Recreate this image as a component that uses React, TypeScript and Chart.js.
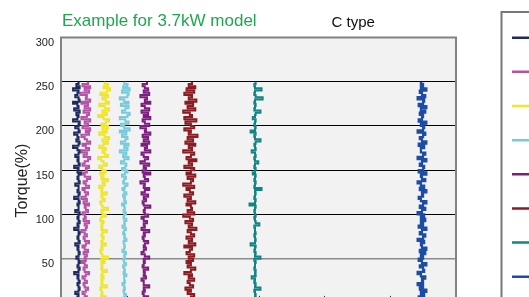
import React, { useEffect, useRef } from "react";
import { Chart, registerables } from "chart.js";

Chart.register(...registerables);

// Torque levels (%) at which each trace is sampled (bottom -> top)
const torqueLevels = [
  0, 2.5, 5, 7.5, 10, 12.5, 15, 17.5, 20, 22.5,
  25, 27.5, 30, 32.5, 35, 37.5, 40, 42.5, 45, 47.5,
  50, 52.5, 55, 57.5, 60, 62.5, 65, 67.5, 70, 72.5,
  75, 77.5, 80, 82.5, 85, 87.5, 90, 92.5, 95, 97.5,
  100, 102.5, 105, 107.5, 110, 112.5, 115, 117.5, 120, 122.5,
  125, 127.5, 130, 132.5, 135, 137.5, 140, 142.5, 145, 147.5,
  150, 152.5, 155, 157.5, 160, 162.5, 165, 167.5, 170, 172.5,
  175, 177.5, 180, 182.5, 185, 187.5, 190, 192.5, 195, 197.5,
  200, 202.5, 205, 207.5, 210, 212.5, 215, 217.5, 220, 222.5,
  225, 227.5, 230, 232.5, 235, 237.5, 240, 242.5, 245, 247.5,
  250,
];

// Legend labels, speed setting of each trace, colours
const seriesLabels = ["1Hz", "1.5Hz", "2.5Hz", "4Hz", "5Hz", "8Hz", "12Hz", "22Hz"];
const seriesSpeeds = [80, 108, 184, 288, 377, 587, 884, 1645];
const seriesColors = ["#1f2a5e", "#b653a6", "#efe62c", "#79cbdc", "#7d1f80", "#8a1c22", "#138484", "#1c4ca3"];

// Speed fluctuation (r/min) of each trace at each torque level
const navyDev = [
  0, 5, 0, -5, 0, -15, 0, 5, 0, -5,
  5, 0, -5, 0, -20, 0, 5, -5, 0, 5,
  0, -10, 0, 5, 0, -5, 0, -15, 5, 0,
  -5, 0, 5, 0, -20, 0, -5, 5, 0, -5,
  0, 5, -15, 0, 0, -5, 5, 0, -20, 0,
  5, -5, 0, 0, -15, 5, 0, -5, 0, 10,
  -5, 0, -20, 5, 0, -5, 0, -15, 0, 5,
  -5, -25, 0, 5, -10, 0, -5, -20, 5, 0,
  -15, 0, 5, -25, -5, 0, -10, 5, -20, 0,
  -5, -25, 5, 0, -15, -5, 0, -25, 5, -10,
  0,
];
const magentaDev = [
  0, 5, -5, 10, 0, -10, 5, 15, 0, -5,
  10, 0, -10, 5, 20, 0, -5, 10, 0, -15,
  5, 0, 10, -5, 15, 0, -10, 5, 20, 0,
  -5, 10, 0, -15, 5, 10, 0, 20, -5, 5,
  0, -10, 15, 5, 0, 20, -5, 10, -15, 5,
  15, 0, -10, 20, 5, -5, 10, 25, 0, -15,
  10, 5, 20, -10, 0, 15, 25, -5, 10, -15,
  20, 5, -10, 25, 10, 0, -15, 20, 5, 25,
  -10, 15, 0, 25, -15, 10, 20, -5, 25, 0,
  15, -15, 25, 5, 10, -20, 20, 0, 25, -10,
  15,
];
const yellowDev = [
  0, 5, 0, 20, 0, 5, 0, -5, 25, 0,
  5, 0, 10, 0, 5, 25, 0, 5, 0, 15,
  0, 30, 5, 0, -5, 5, 0, 20, 0, 5,
  10, 0, 5, 25, 0, 5, 0, 10, -5, 0,
  20, 5, 0, 30, 5, 0, -5, 15, 5, 0,
  25, 0, 5, -10, 15, 5, 30, 0, 10, -5,
  20, 5, -10, 25, 10, 0, -15, 30, 15, 5,
  20, -10, 10, 30, 5, 35, 15, -10, 25, 5,
  30, 0, 20, 35, 10, -15, 25, 5, 35, 15,
  -10, 35, 20, 5, 30, -5, 25, 40, 10, 30,
  15,
];
const lightBlueDev = [
  0, 3, -3, 0, 8, 0, -3, 3, 0, -8,
  3, 0, 0, 10, -3, 3, 0, -5, 8, 0,
  -3, 3, 0, 8, -8, 0, 3, 0, -3, 10,
  0, 3, -5, 0, 8, -8, 3, 0, 10, -3,
  0, 8, -3, 3, 0, -10, 8, 0, 3, -5,
  10, 0, -8, 3, 15, -5, 0, 8, -10, 3,
  15, -10, 5, 10, -15, 0, 20, -5, 10, -20,
  15, 0, 20, -15, 5, 15, -10, 10, -20, 25,
  0, -15, 20, 5, -20, 15, 25, -10, 5, 20,
  -15, 20, 0, -20, 15, 20, -10, 25, -5, 15,
  0,
];
const purpleDev = [
  0, 5, 0, 20, 0, -5, 5, 0, 25, 0,
  0, -10, 10, 0, 5, 0, 20, -5, 0, 5,
  0, 25, 5, -10, 0, 10, 0, 5, 20, 0,
  -5, 5, 0, 25, -10, 5, 0, 15, 0, -10,
  20, 5, 0, 5, 30, 0, -5, 10, 0, 20,
  -10, 5, 25, 0, 5, -15, 20, 5, 0, 30,
  -5, 10, 0, 25, -15, 5, 20, 0, -10, 30,
  5, 15, -10, 25, 0, 20, -5, 30, 5, 10,
  -15, 25, 5, -5, 30, 0, 20, -10, 25, 5,
  -10, 30, 5, 15, -15, 25, 0, 20, 5, -5,
  15,
];
const darkRedDev = [
  -5, 10, -15, 5, 20, -10, 5, -20, 15, 0,
  -10, 20, -5, 10, -25, 5, 25, -10, 5, -15,
  15, -5, 20, -15, 0, 10, -25, 25, -5, 10,
  -15, 20, 5, -10, 30, -5, 10, -20, 15, 0,
  -30, 20, -10, 10, 5, -15, 25, -10, 5, -25,
  15, 0, -15, 20, -30, 5, 15, -10, 25, -15,
  5, 20, -25, 10, -5, 30, -15, 5, 20, -30,
  10, -5, 25, -20, 15, -10, 35, -5, 5, -25,
  20, 5, -20, 30, -25, 10, 0, -30, 25, -10,
  15, -20, 30, -5, 10, -25, 20, -15, 25, -5,
  10,
];
const tealDev = [
  0, 3, -3, 0, 3, 0, -3, 25, 0, 3,
  -3, 0, -15, 3, 0, 3, -3, 0, 0, 3,
  -3, 25, 0, 3, -3, 0, 3, -20, 0, 3,
  0, -3, 3, 0, 0, -3, 20, 3, 0, -3,
  3, 0, -3, 0, 3, -25, 0, 3, -3, 0,
  3, 0, 30, -3, 0, 3, -3, 0, 3, -10,
  0, 3, -3, 0, 15, 0, -3, 3, 0, -15,
  3, 0, -3, 3, 25, 0, -3, 3, -20, 0,
  3, -3, 0, 3, -10, 0, 3, 25, -3, 0,
  3, -3, 0, 35, 3, -3, 0, 30, 0, -3,
  3,
];
const blueDev = [
  -5, 10, 0, -15, 10, -5, 20, -10, 5, -20,
  5, 0, 15, -5, -20, 10, 5, -10, 20, 0,
  -15, 5, -5, 15, -10, 20, 0, -5, 10, -20,
  5, 15, -10, 0, 20, -15, 5, -5, 15, -5,
  10, -20, 0, 15, -10, 5, 20, -5, -15, 5,
  0, 20, -10, 10, -5, -20, 15, 0, -5, 20,
  -15, 5, 10, -10, 0, 20, -20, 5, 15, -5,
  -5, 10, -15, 20, 0, -10, 5, 15, -20, 5,
  10, -5, 20, -15, 0, 5, -10, 15, -5, 20,
  -15, 5, 10, -20, 15, 0, -10, 20, -5, 5,
  -5,
];
const seriesDevs = [navyDev, magentaDev, yellowDev, lightBlueDev, purpleDev, darkRedDev, tealDev, blueDev];

// Axis ranges
const xMin = 0;
const xMax = 1800;
const xStep = 300;
const yMin = 0;
const yMax = 300;
const yStep = 50;

const FONT = '"Liberation Sans", Arial, Helvetica, sans-serif';

const decorPlugin = {
  id: "decor",
  beforeDraw(chart: any) {
    const { ctx, chartArea: a } = chart;
    ctx.save();
    ctx.fillStyle = "#f2f2f2";
    ctx.fillRect(a.left, a.top, a.right - a.left, a.bottom - a.top);
    ctx.restore();
  },
  afterDraw(chart: any) {
    const { ctx, chartArea: a } = chart;
    ctx.save();
    // inner x tick marks
    const xs = chart.scales.x;
    ctx.strokeStyle = "#333";
    ctx.lineWidth = 1;
    xs.ticks.forEach((t: any) => {
      const px = Math.round(xs.getPixelForValue(t.value)) + 0.5;
      ctx.beginPath();
      ctx.moveTo(px, a.bottom);
      ctx.lineTo(px, a.bottom - 7);
      ctx.stroke();
    });
    // plot border
    ctx.strokeStyle = "#828282";
    ctx.lineWidth = 2;
    ctx.strokeRect(a.left, a.top, a.right - a.left, a.bottom - a.top);

    // titles
    ctx.textBaseline = "alphabetic";
    ctx.textAlign = "left";
    ctx.fillStyle = "#1fa750";
    ctx.font = `17px ${FONT}`;
    ctx.fillText("Example for 3.7kW model", 62, 26);
    ctx.fillStyle = "#111";
    ctx.font = `15px ${FONT}`;
    ctx.fillText("C type", 331.5, 26.5);

    // y axis title
    ctx.save();
    ctx.translate(26.5, 180.5);
    ctx.rotate(-Math.PI / 2);
    ctx.textAlign = "center";
    ctx.fillStyle = "#222";
    ctx.font = `16px ${FONT}`;
    ctx.fillText("Torque(%)", 0, 0);
    ctx.restore();

    // legend box
    ctx.strokeStyle = "#777";
    ctx.lineWidth = 2;
    ctx.strokeRect(501.5, 12, 200, 400);
    chart.data.datasets.forEach((ds: any, i: number) => {
      const y = 37.7 + 34.15 * i;
      ctx.strokeStyle = ds.borderColor;
      ctx.lineWidth = 2.5;
      ctx.beginPath();
      ctx.moveTo(512, y);
      ctx.lineTo(545, y);
      ctx.stroke();
      ctx.fillStyle = "#222";
      ctx.font = `12px ${FONT}`;
      ctx.textBaseline = "middle";
      ctx.fillText(ds.label, 552, y);
    });
    ctx.restore();
  },
};

export default function App() {
  const ref = useRef<HTMLCanvasElement | null>(null);

  useEffect(() => {
    if (!ref.current) return;
    const datasets = seriesLabels.map((label, s) => ({
      label,
      data: torqueLevels.map((y, i) => ({ x: seriesSpeeds[s] + seriesDevs[s][i], y })),
      borderColor: seriesColors[s],
      backgroundColor: seriesColors[s],
      showLine: true,
      stepped: true,
      pointRadius: 0,
      borderWidth: s === 7 ? 2.2 : 2,
      tension: 0,
    }));
    const chart = new Chart(ref.current, {
      type: "scatter",
      data: { datasets },
      options: {
        animation: false,
        responsive: false,
        devicePixelRatio: 1,
        layout: { padding: { left: 0, top: 37.5, right: 640 - 456, bottom: 0 } },
        plugins: {
          legend: { display: false },
          title: { display: false },
          tooltip: { enabled: false },
        },
        scales: {
          x: {
            type: "linear",
            min: xMin,
            max: xMax,
            ticks: { stepSize: xStep, font: { family: FONT, size: 11 }, color: "#222" },
            grid: { display: false },
            border: { display: false },
            afterFit: (scale: any) => {
              scale.height = 37.1;
            },
          },
          y: {
            type: "linear",
            min: yMin,
            max: yMax,
            ticks: {
              stepSize: yStep,
              padding: 7,
              labelOffset: 5.5,
              font: { family: FONT, size: 11 },
              color: "#222",
            },
            grid: {
              drawTicks: false,
              color: (c: any) => {
                const v = c.tick ? c.tick.value : null;
                if (v === yMin || v === yMax) return "rgba(0,0,0,0)";
                if (v === 50) return "#8a8a8a";
                return "#000";
              },
              lineWidth: (c: any) => (c.tick && c.tick.value === 50 ? 1.5 : 1),
            },
            border: { display: false },
            afterFit: (scale: any) => {
              scale.width = 61;
            },
          },
        },
      },
      plugins: [decorPlugin],
    } as any);
    return () => chart.destroy();
  }, []);

  return (
    <div
      style={{
        position: "fixed",
        left: 0,
        top: 0,
        width: 529,
        height: 297,
        overflow: "hidden",
        background: "#fff",
      }}
    >
      <canvas ref={ref} width={640} height={340} style={{ display: "block", width: 640, height: 340 }} />
    </div>
  );
}
